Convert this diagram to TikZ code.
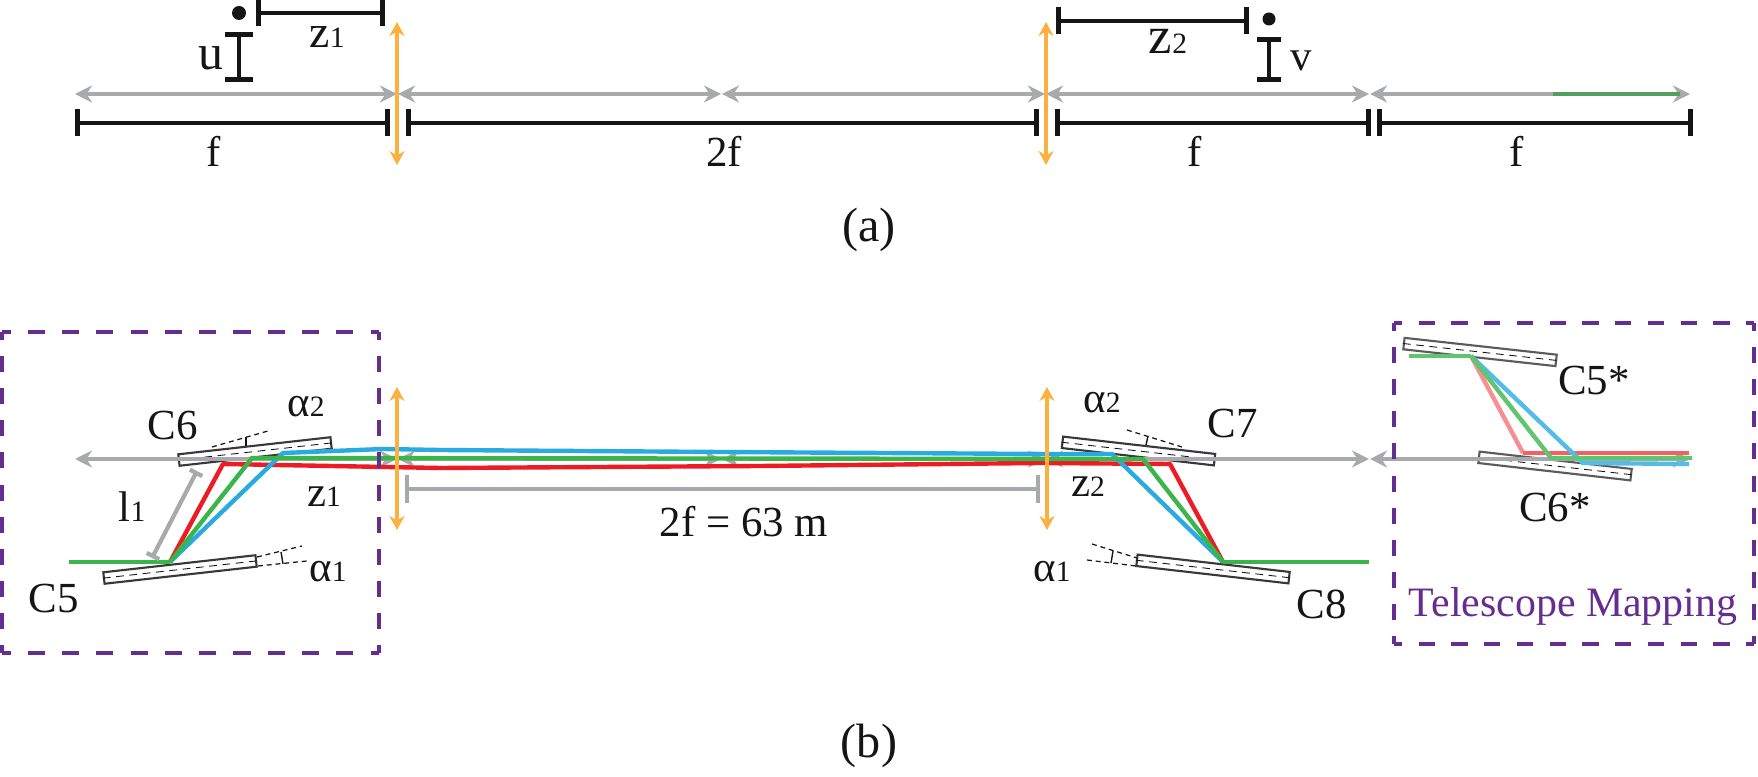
\documentclass[tikz,border=0pt]{standalone}
\usepackage{fontspec}
\setmainfont{Liberation Serif}
\usetikzlibrary{arrows.meta,positioning}
\definecolor{axisgray}{HTML}{A7A9AC}
\definecolor{lensorange}{HTML}{FBB040}
\definecolor{framepurple}{HTML}{662D91}
\definecolor{rayred}{HTML}{ED1C24}
\definecolor{raygreen}{HTML}{39B54A}
\definecolor{rayblue}{HTML}{29ABE2}
\definecolor{inkblack}{HTML}{151515}
\newcommand{\lowidx}[1]{{\fontsize{8.4}{9}\selectfont #1}}

\begin{document}
\begin{tikzpicture}[
    x=0.01cm, y=-0.01cm,
    every node/.style={font=\fontsize{12.2}{14}\selectfont, text=inkblack, inner sep=0pt},
    axisline/.style={draw=axisgray, line width=1.25pt, {Stealth[length=0.17cm,width=0.17cm]}-{Stealth[length=0.17cm,width=0.17cm]}},
    lensline/.style={draw=lensorange, line width=1.1pt, {Stealth[length=0.14cm,width=0.15cm]}-{Stealth[length=0.14cm,width=0.15cm]}},
    dimline/.style={draw=inkblack, line width=1.3pt, {Bar[width=0.27cm,line width=1.3pt]}-{Bar[width=0.27cm,line width=1.3pt]}},
    rulerline/.style={draw=axisgray, line width=1.2pt, {Bar[width=0.27cm,line width=1.2pt]}-{Bar[width=0.27cm,line width=1.2pt]}},
    mirror/.style={draw=inkblack!85, fill=white, line width=0.6pt, minimum width=1.53cm, minimum height=0.115cm},
    mirroraxis/.style={draw=inkblack, line width=0.25pt, dash pattern=on 2.2pt off 1.6pt},
    tiltline/.style={draw=inkblack, line width=0.35pt, dash pattern=on 1.4pt off 1.1pt},
    ray/.style={line width=1.25pt, line join=round},
    groupbox/.style={draw=framepurple, line width=1.25pt}
]
    \useasboundingbox (0,0) rectangle (1758,777);

    % === PANEL (A): UNFOLDED LAYOUT ===
    % Optical axis segments
    \foreach \xa/\xb in {75/397,398/721,722/1045,1046/1369,1370/1690} {
        \draw[axisline] (\xa,94) -- (\xb,94);
    }
    \draw[draw=raygreen!70!axisgray!90!black, line width=1.25pt] (1553,94) -- (1680,94);

    % Focal length bars
    \foreach \xa/\xb in {75/390,406/1039,1055/1371,1377/1693} {
        \draw[dimline] (\xa,123) -- (\xb,123);
    }
    \node (fa) at (214,151) {f};
    \node (fb) at (724,151) {2f};
    \node (fc) at (1195,151) {f};
    \node (fd) at (1517,151) {f};

    % Lenses
    \draw[lensline] (397,22) -- (397,165);
    \draw[lensline] (1046,22) -- (1046,165);

    % Object and image points
    \fill[inkblack] (239,13) circle (7);
    \draw[dimline] (239,32) -- (239,82);
    \node[font=\fontsize{14.2}{16}\selectfont] (ulabel) at (211,58) {u};
    \draw[dimline] (256,13) -- (385,13);
    \node[font=\fontsize{13}{15}\selectfont] (zalabel) at (327,37) {z\lowidx{1}};
    \fill[inkblack] (1269,19) circle (6.5);
    \draw[dimline, {Bar[width=0.24cm,line width=1.3pt]}-{Bar[width=0.24cm,line width=1.3pt]}] (1269,37) -- (1269,82);
    \node (vlabel) at (1301,61) {v};
    \draw[dimline] (1056,21) -- (1249,21);
    \node[font=\fontsize{15}{17}\selectfont] (zblabel) at (1168,41) {z\lowidx{2}};
    \node[font=\fontsize{13.7}{16}\selectfont] (panela) at (869,230) {(a)};

    % === PANEL (B): CHICANE WITH TELESCOPE ===
    % Crystals
    \node[mirror, rotate=6.4] (cfive) at (180,569.5) {};
    \node[mirror, rotate=6.4] (csix) at (255,451.5) {};
    \node[mirror, rotate=-6.5] (cseven) at (1138.5,451) {};
    \node[mirror, rotate=-6.5] (ceight) at (1213,569) {};
    \node[mirror, rotate=-6.3, draw=inkblack!70] (cfivestar) at (1480,352) {};
    \node[mirror, rotate=-6.5, draw=inkblack!70] (csixstar) at (1555,466) {};
    \foreach \crystal in {cfive,csix,cseven,ceight,cfivestar,csixstar} {
        \draw[mirroraxis] (\crystal.west) -- (\crystal.east);
    }

    % Tilt angles
    \draw[tiltline] (212,447) -- (268,431);
    \draw[inkblack, line width=0.4pt] (246,437) -- (246,446);
    \draw[tiltline] (257,557) -- (302,546);
    \draw[tiltline] (258,566) -- (307,561);
    \draw[inkblack, line width=0.4pt] (281,552) -- (283,564);
    \draw[tiltline] (1127,430) -- (1182,447);
    \draw[inkblack, line width=0.4pt] (1148,436) -- (1146,445);
    \draw[tiltline] (1092,544) -- (1137,558);
    \draw[tiltline] (1087,560) -- (1136,566);
    \draw[inkblack, line width=0.4pt] (1113,551) -- (1111,563);

    % Optical axis segments
    \foreach \xa/\xb in {75/397,398/721,722/1045,1046/1369,1370/1690} {
        \draw[axisline] (\xa,459) -- (\xb,459);
    }

    % Rays through the chicane
    \coordinate (sfive) at (170,562);
    \coordinate (seight) at (1223,562);
    \coordinate (sstar) at (1471,356);
    \draw[ray, rayred] (sfive) -- (223,464) -- (440,468) -- (760,466) -- (1040,463) -- (1170,464) -- (seight);
    \draw[ray, rayblue] (sfive) -- (283,453) -- (383,449) -- (440,450) -- (720,452) -- (1045,454) -- (1112,454) -- (seight);
    \draw[ray, raygreen] (sfive) -- (252,458) -- (1143,459) -- (seight);
    \draw[ray, raygreen] (69,562) -- (sfive);
    \draw[ray, raygreen] (seight) -- (1369,562);

    % Rays through the telescope
    \draw[ray, rayred!50] (sstar) -- (1523,453);
    \draw[ray, rayred!70] (1523,453) -- (1689,453);
    \draw[ray, rayblue!80] (sstar) -- (1583,463) -- (1689,464);
    \draw[ray, raygreen!80] (sstar) -- (1551,458) -- (1692,458);
    \draw[ray, raygreen!80] (1409,356) -- (sstar);

    % Length bars
    \draw[rulerline, {Bar[width=0.14cm,line width=1.2pt]}-{Bar[width=0.14cm,line width=1.2pt]}] (197,471) -- (152,558);
    \draw[rulerline] (405,489) -- (1040,489);
    \node (rulerlabel) at (744,522) {2f = 63 m};

    % Lenses
    \draw[lensline] (397,387) -- (397,530);
    \draw[lensline] (1047,387) -- (1047,530);

    % Group frames, one dash half-length at each corner
    \foreach \xa/\ya/\xb/\yb/\dashlen in {
        2/332/379/332/4.875, 2/653/379/653/4.875, 2/332/2/653/4.565, 379/332/379/653/4.565,
        1394/323/1754/323/4.655, 1394/644/1754/644/4.655, 1394/323/1394/644/4.565, 1754/323/1754/644/4.565} {
        \draw[groupbox, dash pattern=on \dashlen pt off \dashlen pt, dash phase={\dashlen/2*1pt}] (\xa,\ya) -- (\xb,\yb);
    }

    % Labels
    \node (csixlabel) at (173,426) {C6};
    \node (cfivelabel) at (54,599) {C5};
    \node (csevenlabel) at (1233,424) {C7};
    \node (ceightlabel) at (1322,604) {C8};
    \node (cfivestarlabel) at (1594,381) {C5*};
    \node (csixstarlabel) at (1555,508) {C6*};
    \node (lonelabel) at (132,507) {l\lowidx{1}};
    \node (zonelabel) at (324,497) {z\lowidx{1}};
    \node (ztwolabel) at (1088,487) {z\lowidx{2}};
    \node (alphatwoa) at (306,407) {α\lowidx{2}};
    \node (alphaonea) at (328,572) {α\lowidx{1}};
    \node (alphatwob) at (1102,403) {α\lowidx{2}};
    \node (alphaoneb) at (1052,572) {α\lowidx{1}};
    \node[text=framepurple, font=\fontsize{11.9}{14}\selectfont] (telelabel) at (1573,607) {Telescope Mapping};
    \node[font=\fontsize{13.7}{16}\selectfont] (panelb) at (869,746) {(b)};
\end{tikzpicture}
\end{document}
